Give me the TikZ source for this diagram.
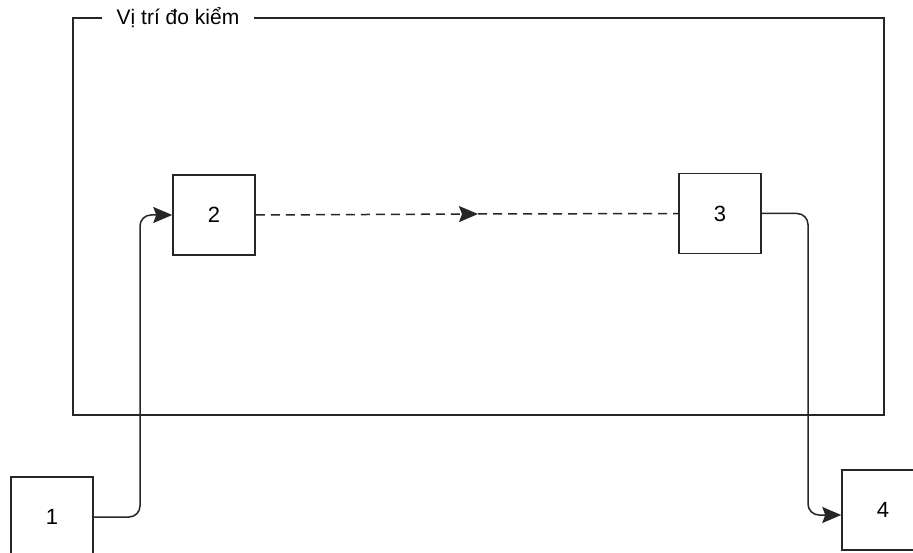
\documentclass[tikz,border=0pt]{standalone}
\usepackage{fontspec}
\setmainfont{Liberation Sans}
\usetikzlibrary{arrows.meta}
\begin{document}
\begin{tikzpicture}[x=1pt,y=-1pt,
  ln/.style={draw=black!85,line width=1.5pt},
  boxnode/.style={ln,minimum width=82pt,minimum height=80pt,inner sep=0pt,font=\fontsize{22}{26}\selectfont},
  headarrow/.style={arrows={-Stealth[length=19pt,width=16pt,inset=3pt]}},
]
\clip (0,0) rectangle (913,553);
\fill[white] (0,0) rectangle (913,553);
% frame
\draw[ln] (73,18) rectangle (884,415);
\node[fill=white,inner xsep=15pt,inner ysep=2pt,font=\fontsize{21}{25}\selectfont] (lab) at (178,18) {Vị trí đo kiểm};
% boxes
\node[boxnode] (b1) at (52,517) {1};
\node[boxnode] (b2) at (214,215) {2};
\node[boxnode] (b3) at (720,213.5) {3};
\node[boxnode] (b4) at (883,510) {4};
% helper coordinates
\coordinate (k1) at (140,215);
\coordinate (k3) at (808,515);
\coordinate (m) at (478,214);
% connectors
\draw[ln,rounded corners=11pt,headarrow] (b1.east |- 0,517) -| (k1) -- (b2.west);
\draw[ln,rounded corners=11pt,headarrow] (b3.east) -| (k3) -- (b4.west |- k3);
\draw[ln,dash pattern=on 9pt off 6pt,headarrow] (b2.east) -- (m);
\draw[ln,dash pattern=on 9pt off 6pt] (m) -- (b3.west);
\end{tikzpicture}
\end{document}
